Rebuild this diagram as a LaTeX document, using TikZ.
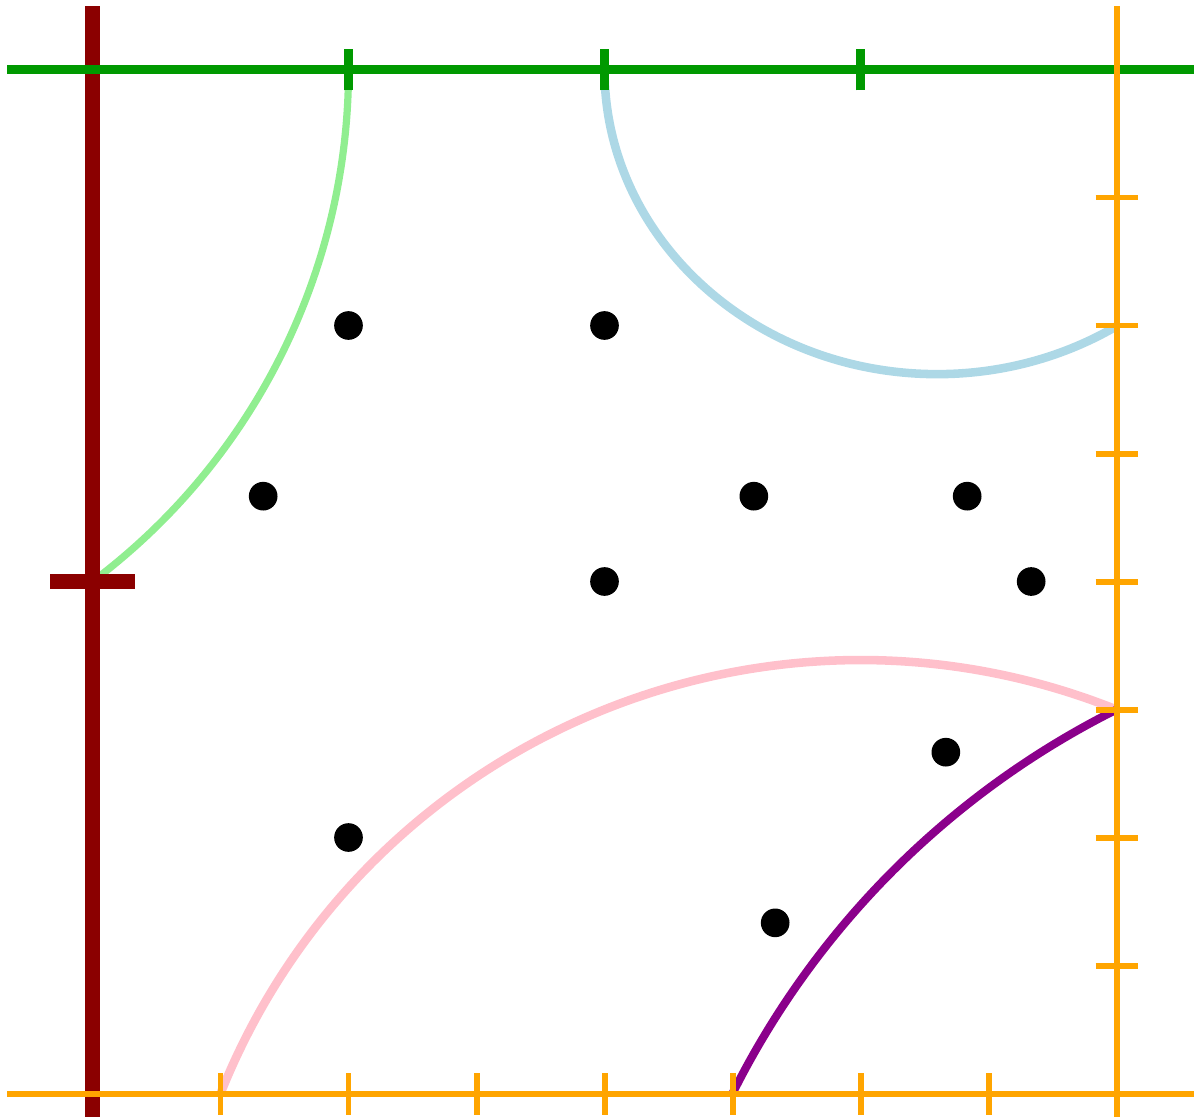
\documentclass[tikz,border=0pt]{standalone}
\usepackage{xcolor}
\usepackage{tikz}
\definecolor{wallred}{RGB}{139,0,0}
\definecolor{topgreen}{RGB}{0,153,0}
\definecolor{edgeorange}{RGB}{255,165,0}
\definecolor{arcgreen}{RGB}{144,238,144}
\definecolor{arcblue}{RGB}{173,216,230}
\definecolor{arcpink}{RGB}{255,192,203}
\definecolor{arcpurple}{RGB}{139,0,139}

\begin{document}
\begin{tikzpicture}[line cap=butt]
    \useasboundingbox (-0.7227,-0.1758) rectangle (8.6055,8.543);
    % arcs
    \draw[arcgreen, line width=1.6pt] (0,4) arc[start angle=-53.13, end angle=0, radius=5];
    \draw[arcblue, line width=1.9pt] (4,8) arc[start angle=180, end angle=302.6, x radius=2.6, y radius=2.38];
    \draw[arcpink, line width=1.9pt] (1,0) arc[start angle=158.2, end angle=68.2, radius=5.385];
    \draw[arcpurple, line width=1.8pt] (5,0) arc[start angle=153.43, end angle=116.57, radius=6.708];
    % points
    \foreach \p in {(2,6),(4,6),(4/3,14/3),(31/6,14/3),(41/6,14/3),(4,4),(22/3,4),(20/3,8/3),(2,2),(16/3,4/3)}
        \fill[black] \p circle (0.112);
    % left wall
    \draw[wallred, line width=3.3pt] (0,-0.18) -- (0,8.5);
    \draw[wallred, line width=3.3pt] (-0.33,4) -- (0.33,4);
    % top
    \draw[topgreen, line width=2pt] (-0.666,8) -- (8.7,8);
    \foreach \x in {2,4,6}
        \draw[topgreen, line width=2pt] (\x,7.836) -- (\x,8.164);
    % bottom and right
    \draw[edgeorange, line width=1.33pt] (-0.666,0) -- (8.7,0);
    \draw[edgeorange, line width=1.33pt] (8,-0.18) -- (8,8.5);
    \foreach \x in {1,...,8}
        \draw[edgeorange, line width=1.33pt] (\x,-0.164) -- (\x,0.164);
    \foreach \y in {1,...,7}
        \draw[edgeorange, line width=1.33pt] (7.836,\y) -- (8.164,\y);
\end{tikzpicture}
\end{document}
